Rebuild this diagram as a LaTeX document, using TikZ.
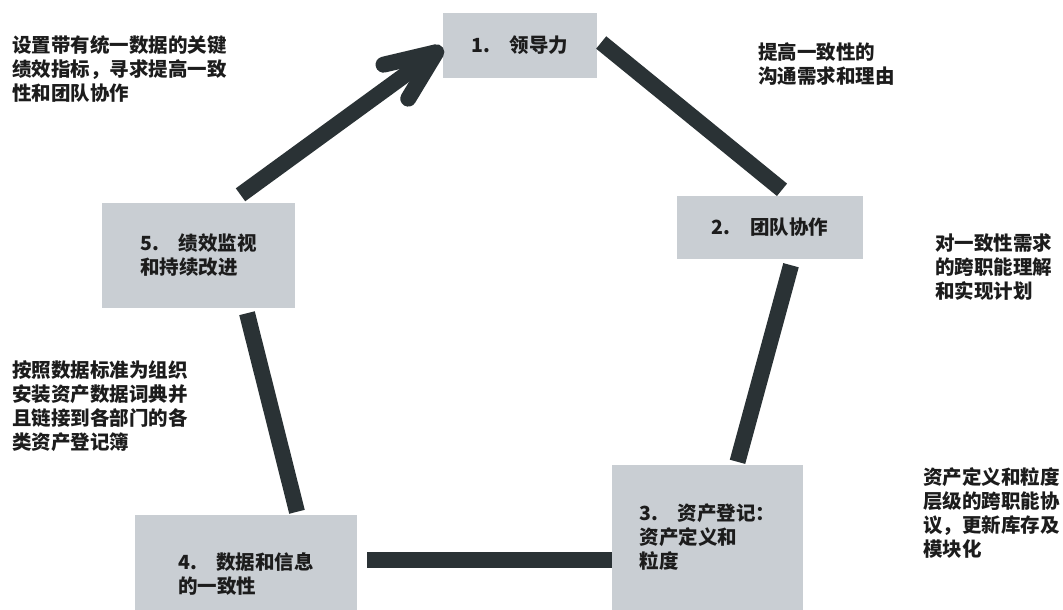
\documentclass[tikz,border=0pt]{standalone}
\usepackage{fontspec}
\newfontfamily\cjk{Noto Sans CJK SC}
\usetikzlibrary{arrows.meta,calc}
\definecolor{boxfill}{HTML}{C9CED3}
\definecolor{barcol}{HTML}{2A3235}
\definecolor{txt}{HTML}{1C1C1C}
\begin{document}
\begin{tikzpicture}[x=1pt,y=-1pt,
  every node/.style={font=\cjk\bfseries\fontsize{19.5}{24}\selectfont, text=txt},
  stage/.style={fill=boxfill, draw=none, inner sep=0pt, align=left},
  note/.style={anchor=north west, inner sep=0pt, align=left},
  bar/.style={line width=16pt, draw=barcol}]
\useasboundingbox (0,0) rectangle (1063,610);
% stages
\node[stage,minimum width=154pt,minimum height=65pt] (n1) at (520,45.5) {1.\quad 领导力};
\node[stage,minimum width=186pt,minimum height=63pt] (n2) at (770,227.5) {2.\quad 团队协作};
\node[stage,minimum width=191pt,minimum height=145pt] (n3) at (707.5,537.5) {3.\quad 资产登记：\\资产定义和\\粒度};
\node[stage,minimum width=222pt,minimum height=118pt] (n4) at (246,574) {4.\quad 数据和信息\\的一致性};
\node[stage,minimum width=193pt,minimum height=105pt] (n5) at (198.5,255.5) {5.\quad 绩效监视\\和持续改进};
% connectors
\draw[bar] ($(n1.east)+(4,-3)$) -- ($(n2.north)+(12,-6)$);
\draw[bar] ($(n2.south)+(21,6)$) -- ($(n3.north)+(30,-3)$);
\draw[bar] ($(n3.west)+(0,22.5)$) -- ($(n4.east|-n3.west)+(10,22.5)$);
\draw[bar] ($(n4.north)+(51,-3)$) -- ($(n5.south)+(48.5,5)$);
\draw[bar,-{Straight Barb[length=50pt,width=42pt,round]}] ($(n5.north)+(42,-8)$) -- ($(n1.west)+(0,2)$);
% annotations
\node[note] (t1) at (12,35) {设置带有统一数据的关键\\绩效指标，寻求提高一致\\性和团队协作};
\node[note] (t2) at (758,42) {提高一致性的\\沟通需求和理由};
\node[note] (t3) at (935,233) {对一致性需求\\的跨职能理解\\和实现计划};
\node[note] (t4) at (12,360) {按照数据标准为组织\\安装资产数据词典并\\且链接到各部门的各\\类资产登记簿};
\node[note] (t5) at (923,467) {资产定义和粒度\\层级的跨职能协\\议，更新库存及\\模块化};
\end{tikzpicture}
\end{document}
